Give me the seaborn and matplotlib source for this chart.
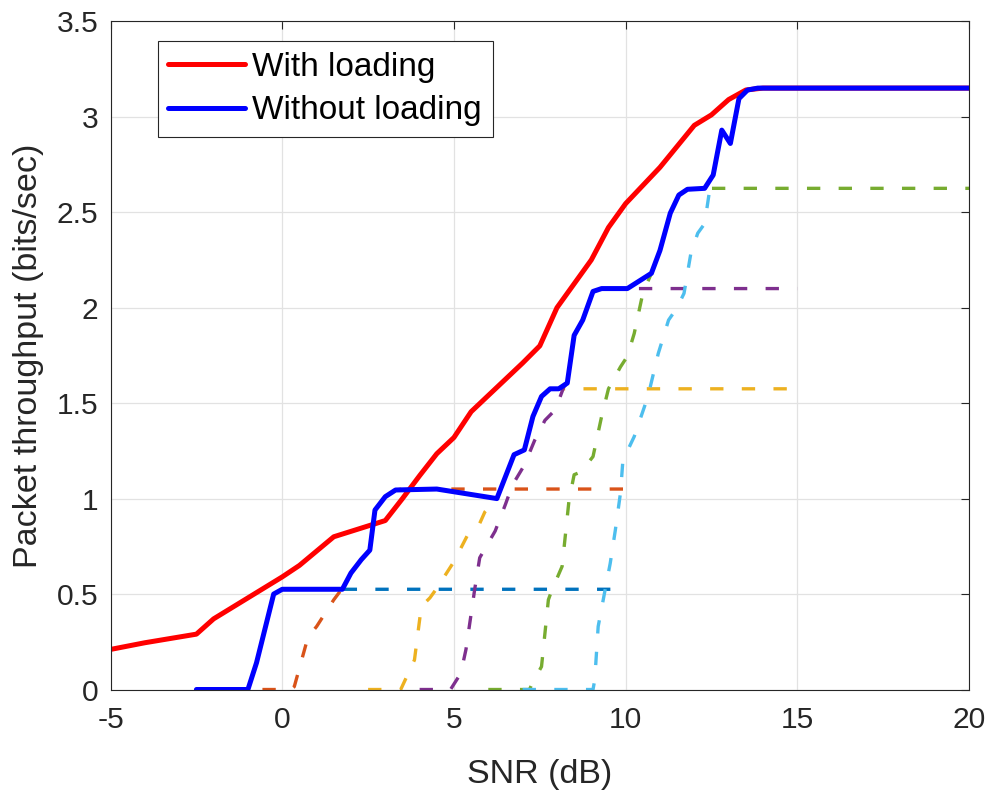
import matplotlib
matplotlib.use("Agg")
import matplotlib.pyplot as plt
import seaborn as sns

# Throughput with adaptive loading
snr_with = [-5, -4, -2.5, -2, -1, 0, 0.5, 1.5, 3, 3.5, 4, 4.5, 5, 5.5, 7, 7.5, 8,
            9, 9.5, 10, 11, 12, 12.5, 13, 13.5, 14, 20]
tp_with = [0.21, 0.245, 0.29, 0.37, 0.48, 0.59, 0.65, 0.80, 0.885, 1.0, 1.12, 1.235,
           1.32, 1.455, 1.71, 1.80, 2.0, 2.25, 2.42, 2.545, 2.735, 2.955, 3.01, 3.09,
           3.14, 3.15, 3.15]

# Throughput without loading (best fixed mode)
snr_without = [-2.5, -1, -0.75, -0.25, 0, 1.75, 2, 2.3, 2.55, 2.7, 3, 3.3, 4.5, 6.25,
               6.75, 7.05, 7.3, 7.55, 7.8, 8.05, 8.3, 8.5, 8.75, 9.05, 9.3, 10.05,
               10.75, 11, 11.3, 11.55, 11.8, 12.3, 12.55, 12.8, 13.05, 13.3, 13.55,
               13.85, 20]
tp_without = [0, 0, 0.14, 0.5, 0.525, 0.525, 0.61, 0.68, 0.73, 0.94, 1.01, 1.045, 1.05,
              1.0, 1.23, 1.255, 1.43, 1.535, 1.575, 1.575, 1.605, 1.855, 1.935, 2.085,
              2.1, 2.1, 2.18, 2.3, 2.495, 2.59, 2.62, 2.625, 2.695, 2.93, 2.86, 3.095,
              3.14, 3.15, 3.15]

# Individual fixed modes (dashed)
snr_m1 = [-2.5, -1, -0.75, -0.25, 0, 10]
tp_m1 = [0, 0, 0.14, 0.5, 0.525, 0.525]

snr_m2 = [-1.5, 0.25, 0.35, 0.75, 1.0, 1.5, 1.75, 2, 2.3, 2.55, 2.7, 3, 3.3, 3.5, 10]
tp_m2 = [0, 0, 0.015, 0.275, 0.33, 0.47, 0.53, 0.61, 0.68, 0.73, 0.94, 1.01, 1.045,
         1.05, 1.05]

snr_m3 = [2.5, 3.45, 3.85, 4.05, 4.3, 4.5, 5.0, 5.4, 5.75, 5.9, 6.25, 6.75, 7.05, 7.3,
          7.55, 7.8, 15]
tp_m3 = [0, 0, 0.155, 0.435, 0.48, 0.53, 0.67, 0.81, 0.87, 0.93, 1.0, 1.23, 1.255,
         1.43, 1.535, 1.575, 1.575]

snr_m4 = [4, 4.9, 5.2, 5.35, 5.6, 5.75, 6.2, 6.5, 6.7, 6.85, 7.05, 7.35, 7.65, 7.95,
          8.2, 8.3, 8.5, 8.75, 9.05, 9.3, 15]
tp_m4 = [0, 0, 0.085, 0.21, 0.52, 0.69, 0.83, 0.97, 1.07, 1.115, 1.175, 1.305, 1.41,
         1.465, 1.585, 1.605, 1.855, 1.935, 2.085, 2.1, 2.1]

snr_m5 = [6, 7.2, 7.3, 7.55, 7.75, 7.85, 8.15, 8.35, 8.5, 8.7, 9.05, 9.3, 9.5, 9.85,
          10.05, 10.25, 10.5, 10.75, 11, 11.3, 11.55, 11.8, 12.3, 20]
tp_m5 = [0, 0, 0.04, 0.12, 0.47, 0.52, 0.645, 0.99, 1.125, 1.14, 1.22, 1.43, 1.575,
         1.69, 1.745, 1.865, 2.075, 2.18, 2.3, 2.495, 2.59, 2.62, 2.625, 2.625]

snr_m6 = [7, 9.05, 9.1, 9.2, 9.4, 9.55, 9.7, 9.85, 9.92, 10.25, 10.65, 10.95, 11.25,
          11.5, 11.7, 11.9, 12.1, 12.3, 12.45, 12.55, 12.8, 13.05, 13.3, 13.55, 13.85, 20]
tp_m6 = [0, 0, 0.05, 0.33, 0.52, 0.66, 0.835, 1.03, 1.2, 1.325, 1.535, 1.76, 1.935,
         2.0, 2.075, 2.285, 2.39, 2.44, 2.62, 2.695, 2.93, 2.86, 3.095, 3.14, 3.15, 3.15]

mode_colors = ["#0072BD", "#D95319", "#EDB120", "#7E2F8E", "#77AC30", "#4DBEEE"]
legend_labels = ["With loading", "Without loading"]

x_ticks = [-5, 0, 5, 10, 15, 20]
x_ticklabels = ["-5", "0", "5", "10", "15", "20"]
y_ticks = [0, 0.5, 1, 1.5, 2, 2.5, 3, 3.5]
y_ticklabels = ["0", "0.5", "1", "1.5", "2", "2.5", "3", "3.5"]

sns.set_theme(style="white")
plt.rcParams["font.family"] = ["Liberation Sans", "DejaVu Sans"]
plt.rcParams["axes.unicode_minus"] = False

text_color = "#262626"
fig = plt.figure(figsize=(9.9, 7.94), dpi=100)
ax = fig.add_axes([0.1117, 0.1316, 0.8671, 0.8416])

modes = [(snr_m1, tp_m1), (snr_m2, tp_m2), (snr_m3, tp_m3),
         (snr_m4, tp_m4), (snr_m5, tp_m5), (snr_m6, tp_m6)]
for (xs, ys), col in zip(modes, mode_colors):
    sns.lineplot(x=xs, y=ys, ax=ax, color=col, linewidth=2.4, sort=False,
                 estimator=None, linestyle=(0, (4, 5.5)))

sns.lineplot(x=snr_with, y=tp_with, ax=ax, color="#FF0000", linewidth=3.6,
             sort=False, estimator=None)
line_with = ax.lines[-1]
sns.lineplot(x=snr_without, y=tp_without, ax=ax, color="#0000FF", linewidth=3.6,
             sort=False, estimator=None)
line_without = ax.lines[-1]

ax.set_xlim(-5, 20)
ax.set_ylim(0, 3.5)
ax.set_xticks(x_ticks)
ax.set_xticklabels(x_ticklabels)
ax.set_yticks(y_ticks)
ax.set_yticklabels(y_ticklabels)
ax.grid(True, color="#e2e2e2", linewidth=0.9)
ax.set_axisbelow(True)
for sp in ax.spines.values():
    sp.set_visible(True)
    sp.set_color(text_color)
    sp.set_linewidth(0.8)
ax.tick_params(direction="in", top=True, right=True, length=6, width=0.8,
               colors=text_color, labelsize=21.6)
ax.tick_params(axis="x", pad=12)
ax.tick_params(axis="y", pad=9)
ax.set_xlabel("SNR (dB)", fontsize=24.5, color=text_color, labelpad=18)
ax.set_ylabel("Packet throughput (bits/sec)", fontsize=24.5, color=text_color,
              labelpad=9)

leg = ax.legend([line_with, line_without], legend_labels, loc="upper left",
                bbox_to_anchor=(0.0549, 0.9705), borderaxespad=0, borderpad=0.32,
                handlelength=2.3, handletextpad=0.22, labelspacing=0.38,
                fontsize=24, frameon=True, fancybox=False, framealpha=1)
leg.get_frame().set_edgecolor(text_color)
leg.get_frame().set_linewidth(0.8)
for t in leg.get_texts():
    t.set_color("black")

fig.savefig("out.png", dpi=100)
